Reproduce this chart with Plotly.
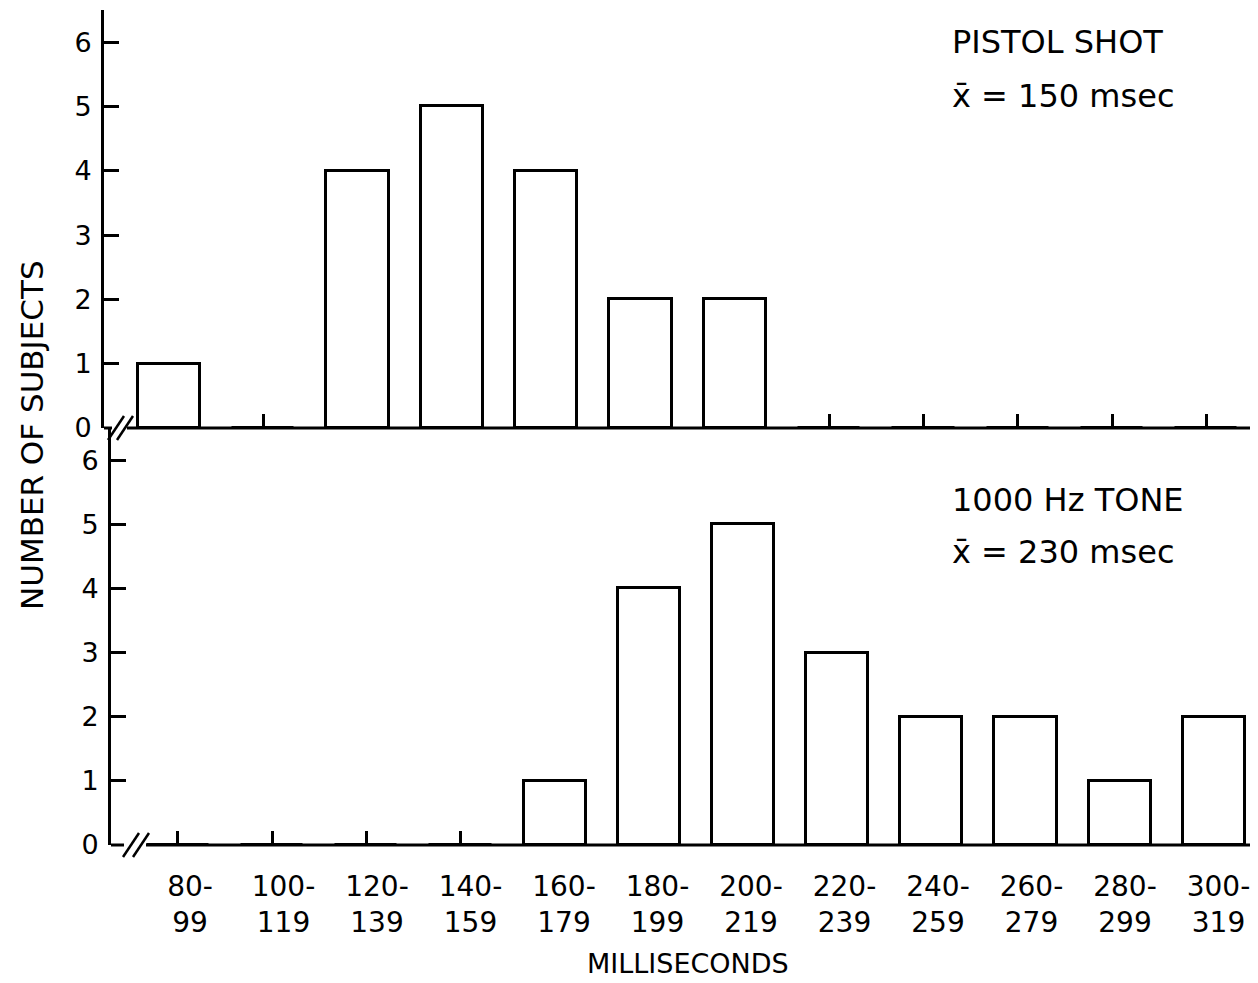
import plotly.graph_objects as go

categories = ["80-99", "100-119", "120-139", "140-159", "160-179", "180-199",
              "200-219", "220-239", "240-259", "260-279", "280-299", "300-319"]
pistol_shot = [1, 0, 4, 5, 4, 2, 2, 0, 0, 0, 0, 0]
tone_1000hz = [0, 0, 0, 0, 1, 4, 5, 3, 2, 2, 1, 2]
y_ticks = [0, 1, 2, 3, 4, 5, 6]
top_label = ["PISTOL SHOT", "x̄ = 150 msec"]
bottom_label = ["1000 Hz TONE", "x̄ = 230 msec"]
x_title = "MILLISECONDS"
y_title = "NUMBER OF SUBJECTS"

FONT = "DejaVu Sans"
OFF = 8                      # default page body margin
W, H = 1250, 975
ML, MR, MT, MB = 96, 0, 2, 138
PW = W - ML - MR
PH = H - MT - MB

xs = list(range(len(categories)))
tick_text = [c.replace("-", "-<br>") for c in categories]

def px_x(p):   # page pixel -> paper fraction
    return (p - OFF - ML) / PW

def px_y(p):
    return (H - MB - (p - OFF)) / PH

fig = go.Figure()
bar_style = dict(marker=dict(color="white", line=dict(color="black", width=3)),
                 width=0.66, showlegend=False, hoverinfo="skip")
fig.add_trace(go.Bar(x=xs, y=pistol_shot, xaxis="x2", yaxis="y2", **bar_style))
fig.add_trace(go.Bar(x=xs, y=tone_1000hz, xaxis="x", yaxis="y", **bar_style))
# invisible carrier so the category-label axis is drawn
fig.add_trace(go.Scatter(x=xs, y=[0] * len(xs), xaxis="x3", yaxis="y", mode="markers",
                         marker=dict(opacity=0), showlegend=False, hoverinfo="skip"))

split = px_y(428)
axis_common = dict(showgrid=False, zeroline=False, layer="below traces")
bottom_dom = [px_x(111), px_x(1250)]

fig.update_layout(
    width=W, height=H,
    margin=dict(l=ML, r=MR, t=MT, b=MB),
    paper_bgcolor="white", plot_bgcolor="white",
    font=dict(family=FONT, color="black", size=27),
    xaxis=dict(domain=bottom_dom, range=[-0.711, 11.383],
               tickvals=xs, ticktext=[""] * len(xs), ticks="inside", ticklen=14,
               tickwidth=2.5, tickcolor="black", showline=False, anchor="y",
               **axis_common),
    xaxis3=dict(domain=bottom_dom, range=[-0.845, 11.337], overlaying="x",
                anchor="y", side="bottom", tickvals=xs, ticktext=tick_text,
                ticks="", showline=False, tickfont=dict(size=28),
                ticklabelstandoff=22, **axis_common),
    yaxis=dict(domain=[0, split], range=[0, 6.5], tickvals=y_ticks,
               ticks="inside", ticklen=15, tickwidth=2.5, tickcolor="black",
               showline=True, linecolor="black", linewidth=3, anchor="x",
               tickfont=dict(size=27), ticklabelstandoff=4, **axis_common),
    xaxis2=dict(domain=[0, 1], range=[-0.689, 11.548],
                tickvals=xs, ticktext=[""] * len(xs), ticks="inside", ticklen=14,
                tickwidth=2.5, tickcolor="black", showline=False, anchor="y2",
                **axis_common),
    yaxis2=dict(domain=[split, 1], range=[0, 6.5], tickvals=y_ticks,
                ticks="inside", ticklen=15, tickwidth=2.5, tickcolor="black",
                showline=True, linecolor="black", linewidth=3, anchor="x2",
                tickfont=dict(size=27), ticklabelstandoff=4, **axis_common),
    bargap=0,
)

# x-axis baselines with "//" breaks (decorative)
line = dict(color="black", width=3)
thin = dict(color="black", width=2.5)
shapes = []
shapes.append(dict(type="line", xref="paper", yref="paper",
                   x0=px_x(104), x1=px_x(112), y0=px_y(428), y1=px_y(428), line=line))
shapes.append(dict(type="line", xref="paper", yref="paper",
                   x0=px_x(127), x1=px_x(1258), y0=px_y(428), y1=px_y(428), line=line))
for dx in (0, 9):
    shapes.append(dict(type="line", xref="paper", yref="paper",
                       x0=px_x(108 + dx), x1=px_x(124 + dx), y0=px_y(440), y1=px_y(416),
                       line=thin))
shapes.append(dict(type="line", xref="paper", yref="paper",
                   x0=px_x(111), x1=px_x(124), y0=px_y(845), y1=px_y(845), line=line))
shapes.append(dict(type="line", xref="paper", yref="paper",
                   x0=px_x(146), x1=px_x(1250), y0=px_y(845), y1=px_y(845), line=line))
for dx in (0, 10):
    shapes.append(dict(type="line", xref="paper", yref="paper",
                       x0=px_x(123 + dx), x1=px_x(139 + dx), y0=px_y(857), y1=px_y(833),
                       line=thin))
fig.update_layout(shapes=shapes)

ann = []
def txt(text, x, y, size, xanchor="left", angle=0):
    ann.append(dict(x=px_x(x), y=px_y(y), xref="paper", yref="paper", text=text,
                    showarrow=False, xanchor=xanchor, yanchor="middle",
                    textangle=angle, font=dict(size=size)))

txt(top_label[0], 950, 42, 32)
txt(top_label[1], 950, 96, 32)
txt(bottom_label[0], 950, 500, 32)
txt(bottom_label[1], 950, 552, 32)
txt(x_title, 688, 963, 27, xanchor="center")
txt(y_title, 32, 435, 31, xanchor="center", angle=-90)
fig.update_layout(annotations=ann)

fig.write_html("out.html")
